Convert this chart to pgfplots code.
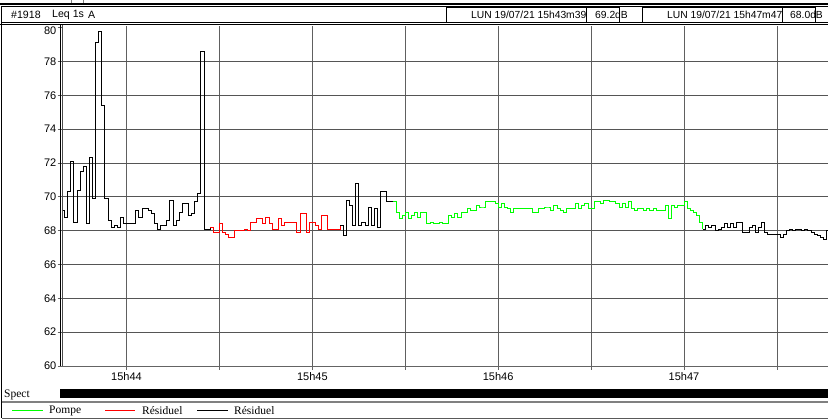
\documentclass[border=0pt]{standalone}
\usepackage{fontspec}
\setmainfont{Liberation Serif}
\newfontfamily\arial{Liberation Sans}
\usepackage{pgfplots}
\pgfplotsset{compat=1.18}

\definecolor{pompe}{RGB}{0,255,0}
\definecolor{resid}{RGB}{255,0,0}
\definecolor{gridc}{RGB}{100,100,100}

\begin{document}
\begin{tikzpicture}[x=1pt,y=-1pt]
\useasboundingbox (0,0) rectangle (828,419);

% top strip and header
\fill[black] (0,3) rectangle (828,5);
\draw[gray] (71,0)--(71,3) (83,0)--(83,3);
\draw[black,line width=0.8pt] (1.5,6.5) rectangle (832,22.5);
\node[anchor=west,inner sep=0] at (11,15) {\arial\fontsize{10.6}{12}\selectfont \#1918};
\node[anchor=west,inner sep=0] at (52,15) {\arial\fontsize{10.6}{12}\selectfont Leq 1s};
\node[anchor=west,inner sep=0] at (88,15) {\arial\fontsize{10.6}{12}\selectfont A};
\node[anchor=east,inner sep=0] at (586.5,15) {\arial\fontsize{10.3}{12}\selectfont LUN 19/07/21 15h43m39};
\node[anchor=west,inner sep=0] at (595,15) {\arial\fontsize{10.3}{12}\selectfont 69.2dB};
\node[anchor=east,inner sep=0] at (782.5,15) {\arial\fontsize{10.3}{12}\selectfont LUN 19/07/21 15h47m47};
\node[anchor=west,inner sep=0] at (790,15) {\arial\fontsize{10.3}{12}\selectfont 68.0dB};
\draw[black,line width=0.8pt] (446,7) rectangle (586,22) (586,7) rectangle (619,22)
  (642,7) rectangle (782,22) (782,7) rectangle (815,22);

% frame below the header and left border
\draw[black,line width=0.8pt] (0,24.5)--(828,24.5);
\draw[black,line width=0.8pt] (1.5,6.5)--(1.5,418);

\begin{axis}[
  at={(61.5pt,-366pt)}, anchor=south west,
  width=766.5pt, height=340pt, scale only axis,
  xmin=39, xmax=286.5, ymin=60, ymax=80.1,
  axis x line*=bottom, axis y line*=left,
  x axis line style={-, draw=gridc, line width=0.8pt},
  y axis line style={-, draw=none},
  xtick={60,120,180,240},
  xticklabels={15h44,15h45,15h46,15h47},
  minor xtick={90,150,210,270},
  ytick={60,62,...,78},
  extra y ticks={80},
  extra y tick style={grid=none, yticklabel style={yshift=-3pt}},
  xmajorgrids, xminorgrids, ymajorgrids,
  x grid style={draw=gray!75!black, line width=0.6pt},
  minor grid style={draw=gray!75!black, line width=0.6pt},
  y grid style={draw=gridc!85!black, line width=0.7pt},
  tick align=outside,
  major tick length=4pt, minor tick length=4pt,
  xtick style={draw=gridc, line width=0.8pt},
  ytick style={draw=gridc, line width=0.8pt},
  tick label style={font=\arial\fontsize{11}{12}\selectfont},
  /pgf/number format/assume math mode=true,
  yticklabel style={inner sep=1pt},
  xticklabel style={inner sep=2pt},
  const plot,
  every axis plot/.append style={line width=0.9pt},
]
% Leq 1s, first black segment
\addplot[black] coordinates {
(39,69.2)(40,68.8)(41,70.3)(42,72.1)(43,68.5)(44,70.4)(45,71.5)(46,71.8)(47,68.4)(48,72.3)
(49,69.9)(50,79.1)(51,79.8)(52,75.4)(53,69.9)(54,68.6)(55,68.2)(56,68.3)(57,68.2)(58,68.8)
(59,68.4)(60,68.4)(61,68.4)(62,68.4)(63,69.2)(64,68.8)(65,69.3)(66,69.3)(67,69.2)(68,69.0)
(69,68.4)(70,68.1)(71,68.3)(72,68.3)(73,68.6)(74,69.8)(75,68.3)(76,68.6)(77,69.1)(78,69.6)
(79,69.6)(80,68.9)(81,69.0)(82,69.7)(83,70.2)(84,78.6)(85,68.1)(86,68.1)(87,68.2)
};
% Residuel (red)
\addplot[resid] coordinates {
(87,68.2)(88,67.9)(89,67.9)(90,68.4)(91,67.9)(92,67.8)(93,67.6)(94,67.6)(95,68.0)(96,68.0)
(97,68.0)(98,68.1)(99,68.0)(100,68.5)(101,68.5)(102,68.7)(103,68.7)(104,68.4)(105,68.8)(106,68.4)
(107,68.1)(108,68.1)(109,68.7)(110,68.3)(111,68.5)(112,68.5)(113,68.5)(114,68.5)(115,67.9)(116,69.0)
(117,69.0)(118,67.9)(119,68.5)(120,68.5)(121,68.3)(122,68.1)(123,68.9)(124,68.9)(125,68.1)(126,68.1)
(127,68.1)(128,68.1)(129,68.3)
};
% second black segment
\addplot[black] coordinates {
(129,68.3)(130,67.7)(131,69.8)(132,69.5)(133,68.3)(134,70.8)(135,68.3)(136,68.5)(137,68.3)(138,69.4)
(139,68.3)(140,69.3)(141,68.2)(142,70.3)(143,70.3)(144,69.7)(145,69.7)(146,69.7)
};
% Pompe (green)
\addplot[pompe] coordinates {
(146,69.7)(147,69.1)(148,68.7)(149,68.9)(150,69.1)(151,68.7)(152,68.9)(153,69.1)(154,68.8)(155,69.1)
(156,69.1)(157,68.4)(158,68.5)(159,68.4)(160,68.4)(161,68.5)(162,68.4)(163,68.4)(164,68.9)(165,68.8)
(166,69.0)(167,68.8)(168,69.1)(169,69.1)(170,69.3)(171,69.2)(172,69.2)(173,69.5)(174,69.4)(175,69.4)
(176,69.7)(177,69.7)(178,69.7)(179,69.6)(180,69.4)(181,69.6)(182,69.4)(183,69.3)(184,69.1)(185,69.3)
(186,69.3)(187,69.3)(188,69.3)(189,69.3)(190,69.3)(191,69.1)(192,69.1)(193,69.3)(194,69.3)(195,69.4)
(196,69.4)(197,69.2)(198,69.5)(199,69.3)(200,69.2)(201,69.1)(202,69.3)(203,69.3)(204,69.3)(205,69.6)
(206,69.3)(207,69.5)(208,69.6)(209,69.3)(210,69.3)(211,69.7)(212,69.7)(213,69.6)(214,69.8)(215,69.8)
(216,69.7)(217,69.7)(218,69.6)(219,69.4)(220,69.6)(221,69.4)(222,69.7)(223,69.3)(224,69.2)(225,69.3)
(226,69.3)(227,69.2)(228,69.3)(229,69.2)(230,69.3)(231,69.2)(232,69.2)(233,69.2)(234,69.5)(235,68.7)
(236,69.5)(237,69.4)(238,69.5)(239,69.5)(240,69.7)(241,69.3)(242,69.2)(243,69.1)(244,68.9)(245,68.5)
(246,68.1)
};
% last black segment
\addplot[black] coordinates {
(246,68.1)(247,68.3)(248,68.2)(249,68.3)(250,68.0)(251,68.1)(252,68.2)(253,68.4)(254,68.2)(255,68.4)
(256,68.2)(257,68.5)(258,68.5)(259,67.9)(260,67.9)(261,68.2)(262,68.3)(263,67.9)(264,68.2)(265,68.5)
(266,67.9)(267,67.8)(268,67.8)(269,67.8)(270,67.8)(271,67.6)(272,67.8)(273,68.0)(274,68.1)(275,68.0)
(276,68.1)(277,68.1)(278,68.0)(279,68.1)(280,68.0)(281,67.9)(282,67.8)(283,67.7)(284,67.6)(285,67.5)
(286,68.0)(287,68.0)
};
\end{axis}

% double left axis line
\draw[black,line width=0.8pt] (60.5,25)--(60.5,366.5);
\draw[gray!60!black,line width=0.8pt] (62.5,25)--(62.5,366.5);

% spectrum strip
\node[anchor=west,inner sep=0] at (4,394.5) {\fontsize{11.5}{12}\selectfont Spect};
\fill[black] (60,389.5) rectangle (828,398.5);

% legend row
\draw[gray,line width=1.4pt] (1.5,402)--(828,402);
\draw[gray!70!black,line width=0.8pt] (1.5,418)--(828,418);
\draw[pompe,line width=0.8pt] (12,410.5)--(43,410.5);
\node[anchor=west,inner sep=0] at (49,410.5) {\fontsize{11.5}{12}\selectfont Pompe};
\draw[resid,line width=0.8pt] (105,410.5)--(135,410.5);
\node[anchor=west,inner sep=0] at (142,410.5) {\fontsize{11.5}{12}\selectfont Résiduel};
\draw[black,line width=0.8pt] (197,410.5)--(228,410.5);
\node[anchor=west,inner sep=0] at (234,410.5) {\fontsize{11.5}{12}\selectfont Résiduel};
\end{tikzpicture}
\end{document}
